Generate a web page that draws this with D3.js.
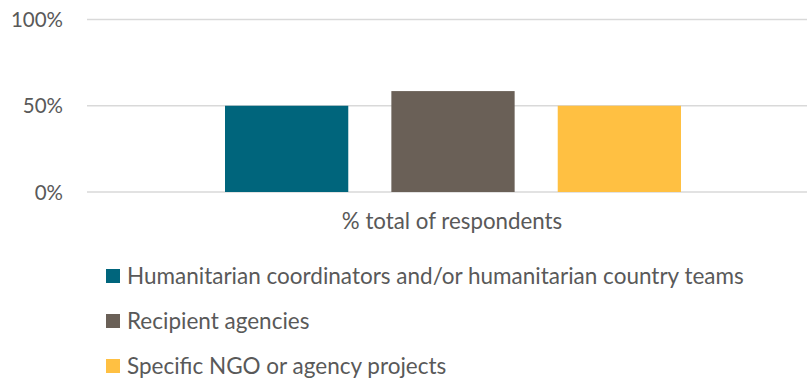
<!DOCTYPE html>
<html>
<head>
<meta charset="utf-8">
<script src="https://cdn.jsdelivr.net/npm/d3@7"></script>
<style>
  html, body { margin: 0; padding: 0; background: #fff; }
  svg text { font-family: Lato, "Open Sans", sans-serif; fill: #595959; }
</style>
</head>
<body>
<svg id="chart" width="807" height="380"></svg>
<script>
// Share of respondents by who the funding was directed through
const category = "% total of respondents";
const series = [
  "Humanitarian coordinators and/or humanitarian country teams",
  "Recipient agencies",
  "Specific NGO or agency projects"
];
const values = [50, 58.5, 50];
const colors = ["#00657C", "#6A6057", "#FFC042"];
const tickValues = [0, 50, 100];

const svg = d3.select("#chart");
const plot = { left: 87, right: 819, top: 19.5, bottom: 192 };

const y = d3.scaleLinear().domain([0, 100]).range([plot.bottom, plot.top]);
const x0 = d3.scaleBand().domain([category]).range([plot.left, plot.right]);
const groupWidth = 456;
const cx = x0(category) + x0.bandwidth() / 2;
const x1 = d3.scaleBand().domain(series)
  .range([cx - groupWidth / 2, cx + groupWidth / 2])
  .paddingInner(0.259).paddingOuter(0);

// gridlines
svg.append("g").selectAll("line").data(tickValues).join("line")
  .attr("x1", plot.left).attr("x2", plot.right)
  .attr("y1", d => y(d)).attr("y2", d => y(d))
  .attr("stroke", "#D9D9D9").attr("stroke-width", 1.5);

// y tick labels
const yAxis = d3.axisLeft(y).tickValues(tickValues).tickFormat(d => d + "%").tickSize(0).tickPadding(0);
const ga = svg.append("g").attr("transform", `translate(63,0)`).call(yAxis);
ga.select(".domain").remove();
ga.selectAll("text").attr("font-size", 20.5).attr("fill", "#595959")
  .style("font-family", "Lato, 'Open Sans', sans-serif").attr("dy", "0.35em");

// bars
svg.append("g").selectAll("rect").data(series).join("rect")
  .attr("x", d => x1(d))
  .attr("width", x1.bandwidth())
  .attr("y", (d, i) => y(values[i]))
  .attr("height", (d, i) => y(0) - y(values[i]))
  .attr("fill", (d, i) => colors[i]);

// category label
svg.append("text")
  .attr("x", cx - 1).attr("y", 229)
  .attr("text-anchor", "middle").attr("font-size", 22.3)
  .text(category);

// legend
const legend = svg.append("g").selectAll("g").data(series).join("g")
  .attr("transform", (d, i) => `translate(106, ${276 + i * 45})`);
legend.append("rect")
  .attr("x", 0).attr("y", -7).attr("width", 14).attr("height", 14)
  .attr("fill", (d, i) => colors[i]);
legend.append("text")
  .attr("x", 21).attr("y", 0).attr("dy", "0.35em")
  .attr("font-size", 22.5)
  .text(d => d);
</script>
</body>
</html>
